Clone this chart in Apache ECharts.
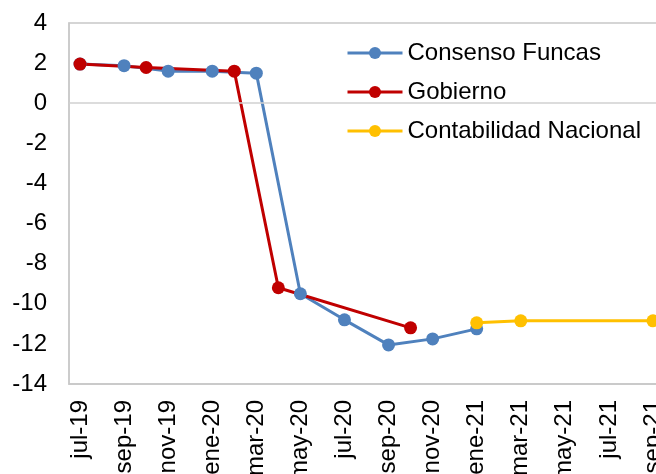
<!DOCTYPE html>
<html>
<head>
<meta charset="utf-8">
<script src="https://cdn.jsdelivr.net/npm/echarts@6/dist/echarts.min.js"></script>
<style>
  html, body { margin: 0; padding: 0; background: #fff; }
  #chart { width: 656px; height: 474px; }
</style>
</head>
<body>
<div id="chart"></div>
<script>
// meses (categorias del eje x)
const months = ['jul-19', 'ago-19', 'sep-19', 'oct-19', 'nov-19', 'dic-19', 'ene-20', 'feb-20', 'mar-20',
  'abr-20', 'may-20', 'jun-20', 'jul-20', 'ago-20', 'sep-20', 'oct-20', 'nov-20', 'dic-20',
  'ene-21', 'feb-21', 'mar-21', 'abr-21', 'may-21', 'jun-21', 'jul-21', 'ago-21', 'sep-21']

const funcas = [1.95, null, 1.87, null, 1.6, null, 1.6, null, 1.5, null, -9.5, null, -10.8, null, -12.05, null, -11.75, null,
  -11.25, null, null, null, null, null, null, null, null]
const gobierno = [1.95, null, null, 1.78, null, null, null, 1.6, null, -9.2, null, null, null, null, null, -11.2, null, null,
  null, null, null, null, null, null, null, null, null]
const contabilidad = [null, null, null, null, null, null, null, null, null, null, null, null, null, null, null, null, null, null,
  -10.95, null, -10.85, null, null, null, null, null, -10.85]

const seriesNames = ['Consenso Funcas', 'Gobierno', 'Contabilidad Nacional']
const colors = ['#4f81bd', '#c00000', '#ffc000']

const font = 'Liberation Sans, Arial, sans-serif'

function lineSeries(name, data, color) {
  return {
    name: name,
    type: 'line',
    data: data,
    connectNulls: true,
    symbol: 'circle',
    symbolSize: 13,
    lineStyle: { width: 3, color: color },
    itemStyle: { color: color },
    emphasis: { disabled: true }
  }
}

const chart = echarts.init(document.getElementById('chart'))
const series = [
  lineSeries(seriesNames[0], funcas, colors[0]),
  lineSeries(seriesNames[1], gobierno, colors[1]),
  lineSeries(seriesNames[2], contabilidad, colors[2])
]
// linea del cero
series[0].markLine = {
  silent: true,
  symbol: 'none',
  label: { show: false },
  lineStyle: { color: '#d0d0d0', width: 1.5, type: 'solid' },
  data: [{ yAxis: 0 }]
}

chart.setOption({
  animation: false,
  textStyle: { fontFamily: font },
  grid: {
    left: 69,
    top: 23,
    right: -8,
    bottom: 90,
    show: true,
    borderColor: '#c8c8c8',
    borderWidth: 1.5,
    outerBoundsMode: 'none'
  },
  legend: {
    orient: 'vertical',
    left: 341,
    top: 36,
    itemWidth: 55,
    itemHeight: 15,
    itemGap: 15,
    data: seriesNames,
    lineStyle: { width: 3 },
    textStyle: { fontSize: 24, color: '#000', fontFamily: font }
  },
  xAxis: {
    type: 'category',
    data: months,
    boundaryGap: true,
    axisLine: { show: true, onZero: false, lineStyle: { color: '#c8c8c8', width: 1.5 } },
    axisTick: { show: false },
    axisLabel: {
      rotate: 90,
      interval: 1,
      margin: 16,
      fontSize: 24,
      color: '#000',
      fontFamily: font
    },
    splitLine: { show: false }
  },
  yAxis: {
    type: 'value',
    min: -14,
    max: 4,
    interval: 2,
    axisLine: { show: true, lineStyle: { color: '#c8c8c8', width: 1.5 } },
    axisTick: { show: false },
    axisLabel: { fontSize: 24, color: '#000', margin: 22, fontFamily: font },
    splitLine: { show: false }
  },
  series: series
})
</script>
</body>
</html>
